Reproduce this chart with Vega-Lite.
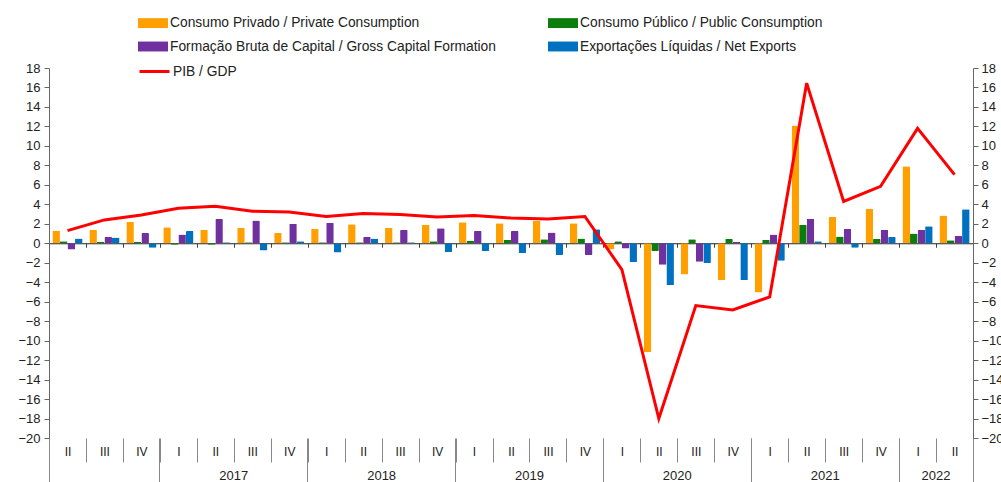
{
  "$schema": "https://vega.github.io/schema/vega-lite/v6.json",
  "width": 924,
  "height": 370,
  "autosize": {"type": "none"},
  "padding": {"left": 49, "right": 28, "top": 68, "bottom": 44},
  "background": "white",
  "datasets": {
    "bars": [
      {"q": "2016-II", "s": "Consumo Privado / Private Consumption", "v": 1.3},
      {"q": "2016-II", "s": "Consumo Público / Public Consumption", "v": 0.2},
      {"q": "2016-II", "s": "Formação Bruta de Capital / Gross Capital Formation", "v": -0.65},
      {"q": "2016-II", "s": "Exportações Líquidas / Net Exports", "v": 0.5},
      {"q": "2016-III", "s": "Consumo Privado / Private Consumption", "v": 1.4},
      {"q": "2016-III", "s": "Consumo Público / Public Consumption", "v": 0.15},
      {"q": "2016-III", "s": "Formação Bruta de Capital / Gross Capital Formation", "v": 0.65},
      {"q": "2016-III", "s": "Exportações Líquidas / Net Exports", "v": 0.6},
      {"q": "2016-IV", "s": "Consumo Privado / Private Consumption", "v": 2.2},
      {"q": "2016-IV", "s": "Consumo Público / Public Consumption", "v": 0.15},
      {"q": "2016-IV", "s": "Formação Bruta de Capital / Gross Capital Formation", "v": 1.05},
      {"q": "2016-IV", "s": "Exportações Líquidas / Net Exports", "v": -0.45},
      {"q": "2017-I", "s": "Consumo Privado / Private Consumption", "v": 1.65},
      {"q": "2017-I", "s": "Consumo Público / Public Consumption", "v": -0.15},
      {"q": "2017-I", "s": "Formação Bruta de Capital / Gross Capital Formation", "v": 0.9},
      {"q": "2017-I", "s": "Exportações Líquidas / Net Exports", "v": 1.25},
      {"q": "2017-II", "s": "Consumo Privado / Private Consumption", "v": 1.4},
      {"q": "2017-II", "s": "Consumo Público / Public Consumption", "v": -0.15},
      {"q": "2017-II", "s": "Formação Bruta de Capital / Gross Capital Formation", "v": 2.5},
      {"q": "2017-II", "s": "Exportações Líquidas / Net Exports", "v": 0.1},
      {"q": "2017-III", "s": "Consumo Privado / Private Consumption", "v": 1.6},
      {"q": "2017-III", "s": "Consumo Público / Public Consumption", "v": 0.1},
      {"q": "2017-III", "s": "Formação Bruta de Capital / Gross Capital Formation", "v": 2.35},
      {"q": "2017-III", "s": "Exportações Líquidas / Net Exports", "v": -0.75},
      {"q": "2017-IV", "s": "Consumo Privado / Private Consumption", "v": 1.05},
      {"q": "2017-IV", "s": "Consumo Público / Public Consumption", "v": 0.1},
      {"q": "2017-IV", "s": "Formação Bruta de Capital / Gross Capital Formation", "v": 2.0},
      {"q": "2017-IV", "s": "Exportações Líquidas / Net Exports", "v": 0.2},
      {"q": "2018-I", "s": "Consumo Privado / Private Consumption", "v": 1.5},
      {"q": "2018-I", "s": "Consumo Público / Public Consumption", "v": 0.1},
      {"q": "2018-I", "s": "Formação Bruta de Capital / Gross Capital Formation", "v": 2.1},
      {"q": "2018-I", "s": "Exportações Líquidas / Net Exports", "v": -0.95},
      {"q": "2018-II", "s": "Consumo Privado / Private Consumption", "v": 1.95},
      {"q": "2018-II", "s": "Consumo Público / Public Consumption", "v": 0.1},
      {"q": "2018-II", "s": "Formação Bruta de Capital / Gross Capital Formation", "v": 0.65},
      {"q": "2018-II", "s": "Exportações Líquidas / Net Exports", "v": 0.5},
      {"q": "2018-III", "s": "Consumo Privado / Private Consumption", "v": 1.6},
      {"q": "2018-III", "s": "Consumo Público / Public Consumption", "v": 0.1},
      {"q": "2018-III", "s": "Formação Bruta de Capital / Gross Capital Formation", "v": 1.35},
      {"q": "2018-III", "s": "Exportações Líquidas / Net Exports", "v": 0.1},
      {"q": "2018-IV", "s": "Consumo Privado / Private Consumption", "v": 1.9},
      {"q": "2018-IV", "s": "Consumo Público / Public Consumption", "v": 0.2},
      {"q": "2018-IV", "s": "Formação Bruta de Capital / Gross Capital Formation", "v": 1.55},
      {"q": "2018-IV", "s": "Exportações Líquidas / Net Exports", "v": -0.9},
      {"q": "2019-I", "s": "Consumo Privado / Private Consumption", "v": 2.15},
      {"q": "2019-I", "s": "Consumo Público / Public Consumption", "v": 0.25},
      {"q": "2019-I", "s": "Formação Bruta de Capital / Gross Capital Formation", "v": 1.25},
      {"q": "2019-I", "s": "Exportações Líquidas / Net Exports", "v": -0.8},
      {"q": "2019-II", "s": "Consumo Privado / Private Consumption", "v": 2.05},
      {"q": "2019-II", "s": "Consumo Público / Public Consumption", "v": 0.35},
      {"q": "2019-II", "s": "Formação Bruta de Capital / Gross Capital Formation", "v": 1.25},
      {"q": "2019-II", "s": "Exportações Líquidas / Net Exports", "v": -1.0},
      {"q": "2019-III", "s": "Consumo Privado / Private Consumption", "v": 2.3},
      {"q": "2019-III", "s": "Consumo Público / Public Consumption", "v": 0.4},
      {"q": "2019-III", "s": "Formação Bruta de Capital / Gross Capital Formation", "v": 1.1},
      {"q": "2019-III", "s": "Exportações Líquidas / Net Exports", "v": -1.2},
      {"q": "2019-IV", "s": "Consumo Privado / Private Consumption", "v": 2.05},
      {"q": "2019-IV", "s": "Consumo Público / Public Consumption", "v": 0.5},
      {"q": "2019-IV", "s": "Formação Bruta de Capital / Gross Capital Formation", "v": -1.2},
      {"q": "2019-IV", "s": "Exportações Líquidas / Net Exports", "v": 1.45},
      {"q": "2020-I", "s": "Consumo Privado / Private Consumption", "v": -0.65},
      {"q": "2020-I", "s": "Consumo Público / Public Consumption", "v": 0.2},
      {"q": "2020-I", "s": "Formação Bruta de Capital / Gross Capital Formation", "v": -0.55},
      {"q": "2020-I", "s": "Exportações Líquidas / Net Exports", "v": -1.95},
      {"q": "2020-II", "s": "Consumo Privado / Private Consumption", "v": -11.2},
      {"q": "2020-II", "s": "Consumo Público / Public Consumption", "v": -0.8},
      {"q": "2020-II", "s": "Formação Bruta de Capital / Gross Capital Formation", "v": -2.2},
      {"q": "2020-II", "s": "Exportações Líquidas / Net Exports", "v": -4.3},
      {"q": "2020-III", "s": "Consumo Privado / Private Consumption", "v": -3.2},
      {"q": "2020-III", "s": "Consumo Público / Public Consumption", "v": 0.4},
      {"q": "2020-III", "s": "Formação Bruta de Capital / Gross Capital Formation", "v": -1.9},
      {"q": "2020-III", "s": "Exportações Líquidas / Net Exports", "v": -2.05},
      {"q": "2020-IV", "s": "Consumo Privado / Private Consumption", "v": -3.8},
      {"q": "2020-IV", "s": "Consumo Público / Public Consumption", "v": 0.45},
      {"q": "2020-IV", "s": "Formação Bruta de Capital / Gross Capital Formation", "v": 0.15},
      {"q": "2020-IV", "s": "Exportações Líquidas / Net Exports", "v": -3.8},
      {"q": "2021-I", "s": "Consumo Privado / Private Consumption", "v": -5.05},
      {"q": "2021-I", "s": "Consumo Público / Public Consumption", "v": 0.35},
      {"q": "2021-I", "s": "Formação Bruta de Capital / Gross Capital Formation", "v": 0.9},
      {"q": "2021-I", "s": "Exportações Líquidas / Net Exports", "v": -1.8},
      {"q": "2021-II", "s": "Consumo Privado / Private Consumption", "v": 12.1},
      {"q": "2021-II", "s": "Consumo Público / Public Consumption", "v": 1.9},
      {"q": "2021-II", "s": "Formação Bruta de Capital / Gross Capital Formation", "v": 2.5},
      {"q": "2021-II", "s": "Exportações Líquidas / Net Exports", "v": 0.2},
      {"q": "2021-III", "s": "Consumo Privado / Private Consumption", "v": 2.7},
      {"q": "2021-III", "s": "Consumo Público / Public Consumption", "v": 0.7},
      {"q": "2021-III", "s": "Formação Bruta de Capital / Gross Capital Formation", "v": 1.5},
      {"q": "2021-III", "s": "Exportações Líquidas / Net Exports", "v": -0.45},
      {"q": "2021-IV", "s": "Consumo Privado / Private Consumption", "v": 3.55},
      {"q": "2021-IV", "s": "Consumo Público / Public Consumption", "v": 0.45},
      {"q": "2021-IV", "s": "Formação Bruta de Capital / Gross Capital Formation", "v": 1.4},
      {"q": "2021-IV", "s": "Exportações Líquidas / Net Exports", "v": 0.65},
      {"q": "2022-I", "s": "Consumo Privado / Private Consumption", "v": 7.9},
      {"q": "2022-I", "s": "Consumo Público / Public Consumption", "v": 1.0},
      {"q": "2022-I", "s": "Formação Bruta de Capital / Gross Capital Formation", "v": 1.35},
      {"q": "2022-I", "s": "Exportações Líquidas / Net Exports", "v": 1.75},
      {"q": "2022-II", "s": "Consumo Privado / Private Consumption", "v": 2.85},
      {"q": "2022-II", "s": "Consumo Público / Public Consumption", "v": 0.3},
      {"q": "2022-II", "s": "Formação Bruta de Capital / Gross Capital Formation", "v": 0.75},
      {"q": "2022-II", "s": "Exportações Líquidas / Net Exports", "v": 3.5}
    ],
    "gdp": [
      {"q": "2016-II", "s": "PIB / GDP", "v": 1.3},
      {"q": "2016-III", "s": "PIB / GDP", "v": 2.4},
      {"q": "2016-IV", "s": "PIB / GDP", "v": 2.9},
      {"q": "2017-I", "s": "PIB / GDP", "v": 3.6},
      {"q": "2017-II", "s": "PIB / GDP", "v": 3.8},
      {"q": "2017-III", "s": "PIB / GDP", "v": 3.3},
      {"q": "2017-IV", "s": "PIB / GDP", "v": 3.2},
      {"q": "2018-I", "s": "PIB / GDP", "v": 2.75},
      {"q": "2018-II", "s": "PIB / GDP", "v": 3.05},
      {"q": "2018-III", "s": "PIB / GDP", "v": 2.95},
      {"q": "2018-IV", "s": "PIB / GDP", "v": 2.7},
      {"q": "2019-I", "s": "PIB / GDP", "v": 2.85},
      {"q": "2019-II", "s": "PIB / GDP", "v": 2.6},
      {"q": "2019-III", "s": "PIB / GDP", "v": 2.5},
      {"q": "2019-IV", "s": "PIB / GDP", "v": 2.75},
      {"q": "2020-I", "s": "PIB / GDP", "v": -2.7},
      {"q": "2020-II", "s": "PIB / GDP", "v": -18.0},
      {"q": "2020-III", "s": "PIB / GDP", "v": -6.4},
      {"q": "2020-IV", "s": "PIB / GDP", "v": -6.85},
      {"q": "2021-I", "s": "PIB / GDP", "v": -5.5},
      {"q": "2021-II", "s": "PIB / GDP", "v": 16.45},
      {"q": "2021-III", "s": "PIB / GDP", "v": 4.3},
      {"q": "2021-IV", "s": "PIB / GDP", "v": 5.85},
      {"q": "2022-I", "s": "PIB / GDP", "v": 11.8},
      {"q": "2022-II", "s": "PIB / GDP", "v": 7.05}
    ]
  },
  "config": {
    "view": {"stroke": null},
    "font": "Liberation Sans",
    "axis": {
      "labelFont": "Liberation Sans",
      "labelColor": "#222",
      "domainColor": "#666",
      "tickColor": "#666",
      "grid": false,
      "title": null
    },
    "legend": {
      "orient": "none",
      "padding": 0,
      "rowPadding": 1.5,
      "labelLimit": 500,
      "labelFont": "Liberation Sans",
      "labelFontSize": 13.8,
      "labelColor": "#222",
      "labelOffset": 2,
      "symbolSize": 900
    }
  },
  "layer": [
    {
      "data": {"name": "bars"},
      "mark": {"type": "bar", "cornerRadius": 1},
      "encoding": {
        "x": {
          "field": "q", "type": "nominal", "sort": null,
          "scale": {"paddingInner": 0, "paddingOuter": 0},
          "axis": {
            "orient": "bottom", "title": null, "domain": false, "tickBand": "extent",
            "labelAngle": 0, "labelPadding": -16, "labelFontSize": 12,
            "labelExpr": "split(datum.value, '-')[1]",
            "tickColor": "#888", "tickSize": 24
          }
        },
        "xOffset": {
          "field": "s", "type": "nominal",
          "sort": ["Consumo Privado / Private Consumption", "Consumo Público / Public Consumption", "Formação Bruta de Capital / Gross Capital Formation", "Exportações Líquidas / Net Exports"],
          "scale": {"paddingInner": 0, "paddingOuter": 0.45}
        },
        "y": {
          "field": "v", "type": "quantitative",
          "scale": {"domain": [-20, 18], "nice": false, "zero": false},
          "axis": {"orient": "left", "values": [-20,-18,-16,-14,-12,-10,-8,-6,-4,-2,0,2,4,6,8,10,12,14,16,18], "tickSize": 5, "labelPadding": 4, "labelFontSize": 13, "title": null}
        },
        "color": {
          "field": "s", "type": "nominal",
          "scale": {
            "domain": ["Consumo Privado / Private Consumption", "Formação Bruta de Capital / Gross Capital Formation", "Consumo Público / Public Consumption", "Exportações Líquidas / Net Exports"],
            "range": ["#FFA000", "#7030A0", "#0A7D0A", "#0070C0"]
          },
          "legend": {
            "title": null,
            "legendX": 89,
            "legendY": -60,
            "columns": 2,
            "columnPadding": 52,
            "symbolType": "M-1,-0.33H1V0.33H-1Z",
            "symbolStrokeWidth": 0
          }
        }
      }
    },
    {
      "data": {"name": "gdp"},
      "mark": {"type": "line", "strokeWidth": 3},
      "encoding": {
        "x": {
          "field": "q", "type": "nominal", "sort": null,
          "axis": {"orient": "bottom", "offset": -194.74, "labels": false, "tickBand": "extent", "tickSize": 4, "domain": true, "domainColor": "#222", "tickColor": "#444", "title": null}
        },
        "y": {
          "field": "v", "type": "quantitative",
          "axis": {"orient": "right", "values": [-20,-18,-16,-14,-12,-10,-8,-6,-4,-2,0,2,4,6,8,10,12,14,16,18], "tickSize": 5, "labelPadding": 3, "labelFontSize": 13, "title": null}
        },
        "stroke": {
          "field": "s", "type": "nominal",
          "scale": {"domain": ["PIB / GDP"], "range": ["#FF0000"]},
          "legend": {
            "title": null,
            "legendX": 89,
            "legendY": -13,
            "symbolType": "stroke",
            "symbolStrokeWidth": 3
          }
        }
      }
    },
    {
      "data": {"name": "gdp"},
      "mark": {"type": "point", "opacity": 0},
      "encoding": {
        "x": {
          "field": "q", "type": "nominal", "sort": null,
          "axis": {"orient": "bottom", "values": ["2017-III", "2018-III", "2019-III", "2020-III", "2021-III", "2022-II"], "bandPosition": 0, "tickOpacity": 0, "tickSize": 0, "labelPadding": 31, "labelOffset": -18.5, "labelFontSize": 13, "domain": false, "labelAngle": 0, "labelExpr": "slice(datum.value, 0, 4)", "title": null}
        },
        "y": {"field": "v", "type": "quantitative", "axis": null}
      }
    },
    {
      "data": {"name": "gdp"},
      "mark": {"type": "point", "opacity": 0},
      "encoding": {
        "x": {
          "field": "q", "type": "nominal", "sort": null,
          "axis": {"orient": "bottom", "values": ["2016-II", "2017-I", "2018-I", "2019-I", "2020-I", "2021-I", "2022-I"], "bandPosition": 0, "tickSize": 44, "tickColor": "#888", "labels": false, "domain": false, "title": null}
        },
        "y": {"field": "v", "type": "quantitative", "axis": null}
      }
    },
    {
      "data": {"name": "gdp"},
      "mark": {"type": "point", "opacity": 0},
      "encoding": {
        "x": {
          "field": "q", "type": "nominal", "sort": null,
          "axis": {"orient": "bottom", "values": ["2022-II"], "bandPosition": 1, "tickSize": 44, "tickColor": "#888", "labels": false, "domain": false, "title": null}
        },
        "y": {"field": "v", "type": "quantitative", "axis": null}
      }
    }
  ],
  "resolve": {"axis": {"x": "independent", "y": "independent"}}
}
